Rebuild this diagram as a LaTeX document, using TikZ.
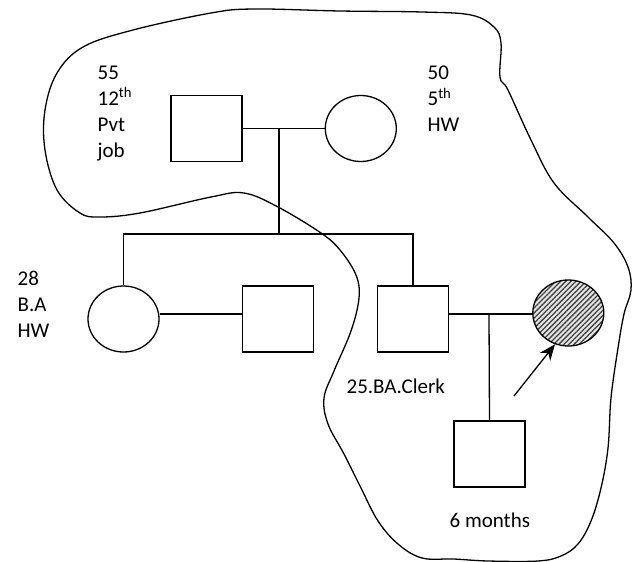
\documentclass[tikz,border=0pt]{standalone}
\usepackage{fontspec}
\setmainfont{Carlito}
\usetikzlibrary{arrows.meta,positioning,shapes.geometric,patterns.meta}

\begin{document}
\begin{tikzpicture}[
  x=1pt, y=-1pt,
  line width=1.3pt,
  node distance=82pt and 82pt,
  male/.style={draw, rectangle, minimum width=71pt, minimum height=66pt, inner sep=0pt},
  female/.style={draw, ellipse, minimum width=71pt, minimum height=66pt, inner sep=0pt},
  info/.style={align=left, anchor=north west, inner sep=0pt,
               font=\fontsize{21}{25.8}\selectfont},
  >={Stealth[length=16pt,width=13pt]}]
\useasboundingbox (0,0) rectangle (632,562);
% grandparents
\node[male] (gf) at (206.5,128.5) {};
\node[female, right=82pt of gf] (gm) {};
% children and spouses
\node[female] (d) at (123.5,319) {};
\node[male, right=82pt of d] (h) {};
\node[male] (s) at (413,319) {};
\node[female, right=83pt of s, yshift=6pt, preaction={fill=black!10},
      pattern={Lines[angle=45,distance=3.6pt,line width=1.3pt]},
      pattern color=black!75] (w) {};
\node[male] (b) at (489.5,454) {};
% labels
\node[info] (gfinfo) at (97,65.5) {55\\12\textsuperscript{th}\\Pvt\\job};
\node[info] (gminfo) at (427,65.5) {50\\5\textsuperscript{th}\\HW};
\node[info] (dinfo) at (17,270.5) {28\\B.A\\HW};
\node[info, anchor=base west] (sinfo) at (346,393.5) {25.BA.Clerk};
\node[info, anchor=base west] (binfo) at (449,527) {6 months};
% lines of descent
\coordinate (m1) at (279,128.5);
\coordinate (sib) at (279,234);
\coordinate (m2) at (200,314);
\coordinate (m3) at (489,314);
\coordinate (tail) at (514,396);
\draw (gf) -- (gm);
\draw (m1) -- (sib);
\draw (d.north) |- (s.north |- sib) -- (s.north);
\draw (d.east |- m2) -- (h.west |- m2);
\draw (s.east |- m3) -- (w.west |- m3);
\draw (m3) -- (b.north);
\draw[->] (tail) -- (w.247);
% household boundary
\draw plot[smooth cycle, tension=0.6] coordinates {
  (254,9) (340,11) (422,12) (471,15) (494,27) (501,43) (500,77) (508,90)
  (531,140) (554,183) (588,217) (614,243) (628,267) (631,290) (624,314)
  (618,348) (611,398) (608,448) (601,488) (591,521) (578,544) (561,556)
  (538,561) (488,561) (454,559) (422,558) (398,544) (378,521) (361,488)
  (344,454) (328,424) (324,398) (334,371) (351,331) (359,298) (356,275)
  (340,250) (321,233) (278,207) (244,193) (211,197) (140,213) (100,217)
  (80,213) (57,190) (45,150) (45,110) (57,73) (83,47) (133,30) (211,13)};
\end{tikzpicture}
\end{document}
